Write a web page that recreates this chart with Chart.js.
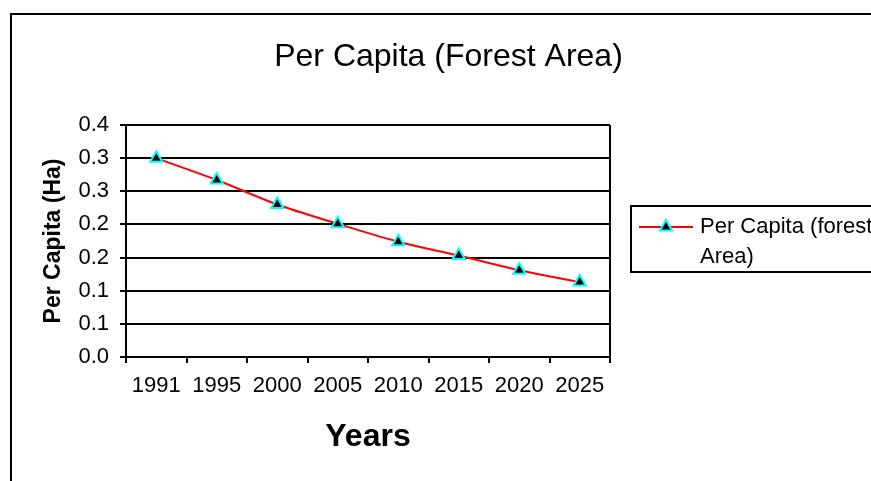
<!DOCTYPE html>
<html>
<head>
<meta charset="utf-8">
<script src="https://cdn.jsdelivr.net/npm/chart.js@4.4.0/dist/chart.umd.min.js"></script>
<style>
html, body { margin: 0; padding: 0; background: #fff; overflow: hidden; }
#frame { position: absolute; left: 10px; top: 13px; border-left: 2px solid #000; border-top: 2px solid #000; }
canvas { display: block; }
</style>
</head>
<body>
<div id="frame"><canvas id="chart" width="873" height="466"></canvas></div>
<script>
const years = ['1991', '1995', '2000', '2005', '2010', '2015', '2020', '2025'];
const perCapita = [0.300, 0.267, 0.230, 0.201, 0.174, 0.153, 0.131, 0.113];
const yTickLabels = ['0.0', '0.1', '0.1', '0.2', '0.2', '0.3', '0.3', '0.4'];
const seriesLabel = 'Per Capita (forest Area)';
const legendLines = ['Per Capita (forest', 'Area)'];

const FONT = '"Liberation Sans", Arial, sans-serif';
Chart.defaults.font.family = FONT;
Chart.defaults.color = '#000';

// legend drawn by hand: boxed, wrapped text, line + marker sample
const boxLegend = {
    id: 'boxLegend',
    afterDraw(chart) {
        const ctx = chart.ctx;
        const ds = chart.data.datasets[0];
        const x0 = chart.chartArea.right + 21;
        const y0 = 191;
        ctx.save();
        ctx.lineWidth = 2;
        ctx.strokeStyle = '#000';
        ctx.strokeRect(x0, y0, 300, 66);

        const ly = y0 + 21;
        ctx.strokeStyle = ds.borderColor;
        ctx.lineWidth = 2;
        ctx.beginPath();
        ctx.moveTo(x0 + 8, ly);
        ctx.lineTo(x0 + 62, ly);
        ctx.stroke();

        const r = ds.pointRadius, cx = x0 + 35;
        ctx.beginPath();
        for (let k = 0; k < 3; k++) {
            const a = k * 2 * Math.PI / 3;
            const px = cx + Math.sin(a) * r, py = ly - Math.cos(a) * r;
            k === 0 ? ctx.moveTo(px, py) : ctx.lineTo(px, py);
        }
        ctx.closePath();
        ctx.fillStyle = ds.pointBackgroundColor;
        ctx.fill();
        ctx.strokeStyle = ds.pointBorderColor;
        ctx.lineWidth = ds.pointBorderWidth;
        ctx.stroke();

        ctx.fillStyle = '#000';
        ctx.font = '22px ' + FONT;
        ctx.textBaseline = 'middle';
        legendLines.forEach((t, i) => ctx.fillText(t, x0 + 69, ly + i * 30));
        ctx.restore();
    }
};

new Chart(document.getElementById('chart'), {
    type: 'line',
    data: {
        labels: years,
        datasets: [{
            label: seriesLabel,
            data: perCapita,
            borderColor: '#ff0000',
            borderWidth: 2,
            cubicInterpolationMode: 'monotone',
            pointStyle: 'triangle',
            pointRadius: 7,
            pointBackgroundColor: '#000',
            pointBorderColor: '#00ffff',
            pointBorderWidth: 2,
            yAxisID: 'y'
        }]
    },
    options: {
        responsive: false,
        animation: false,
        layout: { padding: 0 },
        plugins: {
            legend: { display: false },
            tooltip: { enabled: false },
            title: {
                display: true,
                text: 'Per Capita (Forest Area)',
                font: { size: 32, weight: 'normal' },
                color: '#000',
                padding: { top: 23, bottom: 48.6 }
            }
        },
        scales: {
            x: {
                offset: true,
                afterFit: s => { s.height = 124; },
                grid: {
                    offset: true,
                    lineWidth: 2,
                    tickLength: 6,
                    tickColor: '#000',
                    color: c => c.type === 'tick' ? 'rgba(0,0,0,0)' : '#000'
                },
                border: { color: '#000', width: 2 },
                ticks: { font: { size: 22 }, padding: 10, maxRotation: 0, color: '#000' },
                title: {
                    display: true,
                    text: 'Years',
                    font: { size: 32, weight: 'bold' },
                    color: '#000',
                    padding: { top: 0, bottom: 25 }
                }
            },
            y: {
                min: 0,
                max: 0.35,
                afterFit: s => { s.width = 114; },
                afterBuildTicks: s => {
                    s.ticks = yTickLabels.map((_, i) => ({ value: i * 0.05 }));
                },
                grid: { color: '#000', lineWidth: 2, tickLength: 6, tickColor: '#000' },
                border: { color: '#000', width: 2 },
                ticks: {
                    font: { size: 22 },
                    padding: 11,
                    color: '#000',
                    callback: (v, i) => yTickLabels[i]
                },
                title: {
                    display: true,
                    text: 'Per Capita (Ha)',
                    font: { size: 23, weight: 'bold' },
                    color: '#000',
                    padding: { top: 28, bottom: 0 }
                }
            },
            side: {
                type: 'linear',
                position: 'right',
                afterFit: s => { s.width = 275; },
                grid: { display: false },
                border: { display: false },
                ticks: { display: false }
            }
        }
    },
    plugins: [boxLegend]
});
</script>
</body>
</html>
